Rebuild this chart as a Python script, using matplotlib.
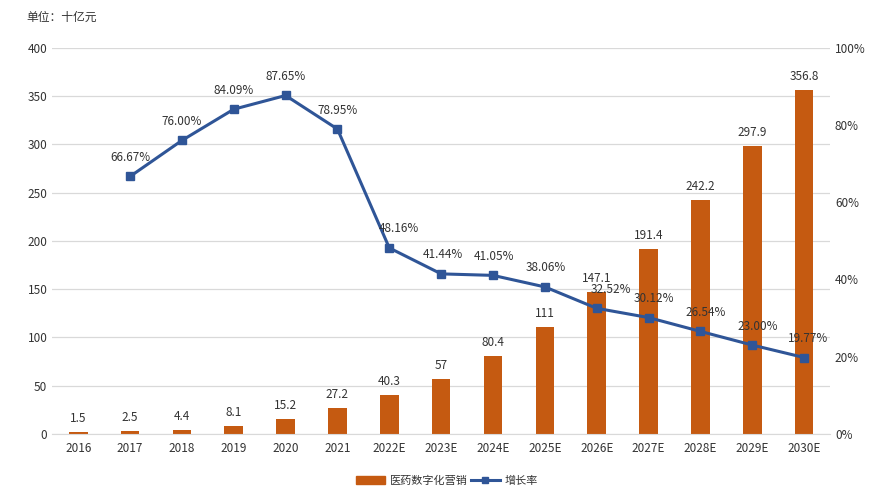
import matplotlib.pyplot as plt
from matplotlib.lines import Line2D
from matplotlib.patches import Patch

plt.rcParams['font.family'] = ['Noto Sans CJK SC', 'DejaVu Sans']

years = ["2016", "2017", "2018", "2019", "2020", "2021", "2022E", "2023E",
         "2024E", "2025E", "2026E", "2027E", "2028E", "2029E", "2030E"]
revenue = [1.5, 2.5, 4.4, 8.1, 15.2, 27.2, 40.3, 57, 80.4, 111, 147.1, 191.4, 242.2, 297.9, 356.8]
growth = [None, 66.67, 76.00, 84.09, 87.65, 78.95, 48.16, 41.44, 41.05, 38.06,
          32.52, 30.12, 26.54, 23.00, 19.77]
# horizontal nudge of the growth labels (points), as in the original
label_dx = [0, 0, 0, 0, 0, 0, 7, 1, 1, 1, 10, 4, 4, 4, 3]

bar_color = "#C55A11"
line_color = "#2F5597"
txt = "#333333"

fig = plt.figure(figsize=(8.71, 4.93), dpi=100)
ax = fig.add_axes([0.06, 0.12, 0.893, 0.783])
x = list(range(len(years)))

ax.bar(x, revenue, width=0.36, color=bar_color, zorder=2)
for xi, v in zip(x, revenue):
    ax.annotate(f"{v:g}", (xi, v), xytext=(0, 5), textcoords="offset points",
                ha="center", va="bottom", fontsize=8.5, color=txt)

ax.set_ylim(0, 400)
ax.set_xlim(-0.5, len(years) - 0.5)
ax.set_yticks(range(0, 401, 50))
ax.grid(axis="y", color="#d9d9d9", linewidth=0.9, zorder=0)
ax.set_axisbelow(True)
for s in ["top", "left", "right"]:
    ax.spines[s].set_visible(False)
ax.spines["bottom"].set_color("#d9d9d9")
ax.set_xticks(x)
ax.set_xticklabels(years)
ax.tick_params(axis="both", length=0, labelsize=8.5, colors=txt)
ax.tick_params(axis="x", pad=6)

ax2 = ax.twinx()
gx = [xi for xi, g in zip(x, growth) if g is not None]
gy = [g for g in growth if g is not None]
ax2.plot(gx, gy, color=line_color, linewidth=2.2, marker="s", markersize=5.5, zorder=3)
for xi, g in zip(gx, gy):
    ax2.annotate(f"{g:.2f}%", (xi, g), xytext=(label_dx[xi], 9), textcoords="offset points",
                 ha="center", va="bottom", fontsize=8.5, color=txt)
ax2.set_ylim(0, 100)
ax2.set_yticks(range(0, 101, 20))
ax2.set_yticklabels([f"{t}%" for t in range(0, 101, 20)])
ax2.tick_params(axis="y", length=0, labelsize=8.5, colors=txt)
for s in ["top", "left", "right", "bottom"]:
    ax2.spines[s].set_visible(False)

fig.text(0.03, 0.965, "单位：十亿元", fontsize=8.5, color=txt, ha="left", va="center")

handles = [Patch(color=bar_color),
           Line2D([0], [0], color=line_color, linewidth=2.2, marker="s", markersize=5)]
fig.legend(handles, ["医药数字化营销", "增长率"], loc="center", bbox_to_anchor=(0.513, 0.025),
           ncol=2, frameon=False, fontsize=8, handlelength=2.6, columnspacing=0.3,
           handletextpad=0.4, labelcolor=txt)

fig.savefig("out.png", dpi=100)
